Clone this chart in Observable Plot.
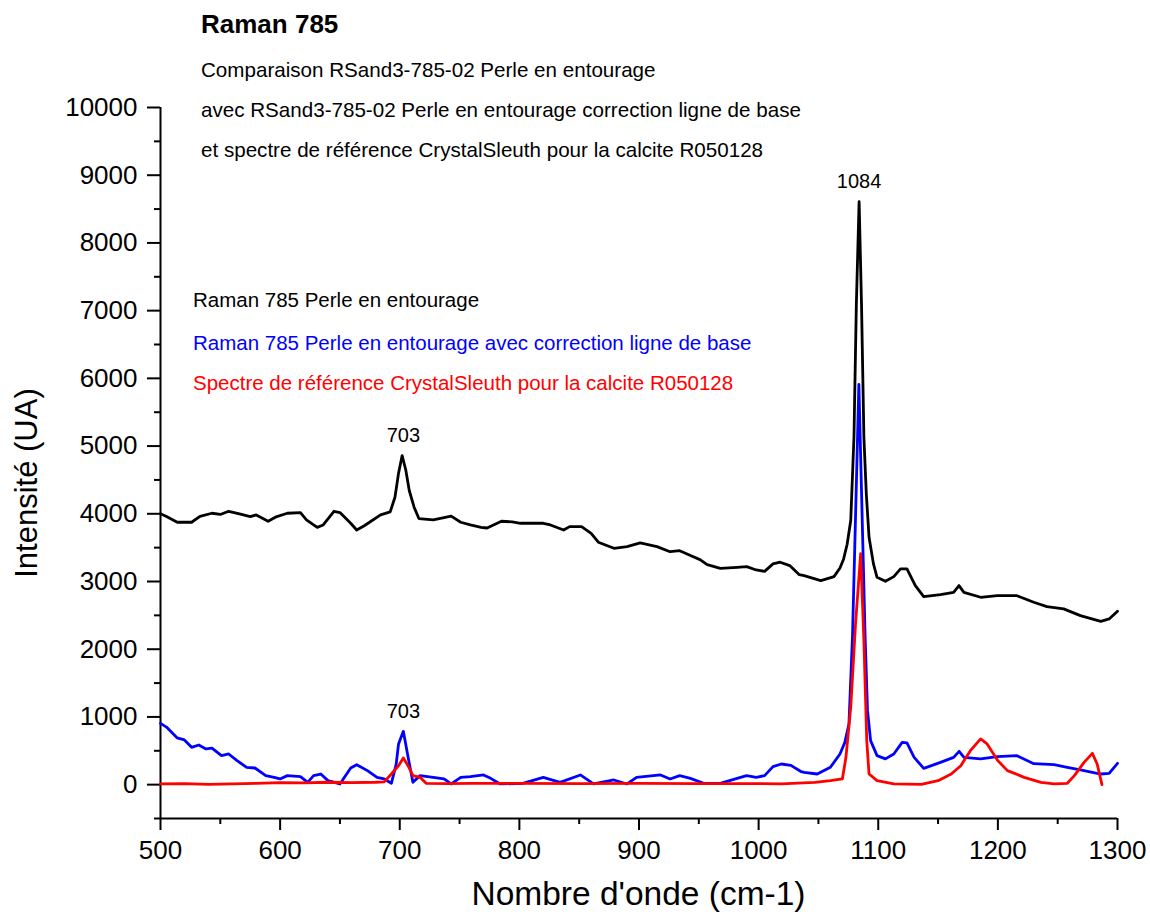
<!DOCTYPE html>
<html>
<head>
<meta charset="utf-8">
<script src="https://cdn.jsdelivr.net/npm/d3@7"></script>
<script src="https://cdn.jsdelivr.net/npm/@observablehq/plot@0.6"></script>
<style>
  html, body { margin: 0; padding: 0; background: #fff; }
  #wrap { position: relative; width: 1150px; height: 920px; font-family: "Liberation Sans", Arial, sans-serif; color: #000; }
  #wrap svg { position: absolute; left: 0; top: 0; }
  .t { position: absolute; white-space: nowrap; line-height: 1; }
</style>
</head>
<body>
<div id="wrap"></div>
<script>
// ---- Data ----
const title = "Raman 785";
const subtitleLines = [
  "Comparaison RSand3-785-02 Perle en entourage",
  "avec RSand3-785-02 Perle en entourage correction ligne de base",
  "et spectre de référence CrystalSleuth pour la calcite R050128"
];
const seriesNames = [
  "Raman 785 Perle en entourage",
  "Raman 785 Perle en entourage avec correction ligne de base",
  "Spectre de référence CrystalSleuth pour la calcite R050128"
];
const seriesColors = ["#000000", "#0000ff", "#ff0000"];
const xLabel = "Nombre d'onde (cm-1)";
const yLabel = "Intensité (UA)";
const xDomain = [500, 1300];
const yDomain = [-500, 10000];
const xTicks = [500, 600, 700, 800, 900, 1000, 1100, 1200, 1300];
const xMinorTicks = [550, 650, 750, 850, 950, 1050, 1150, 1250];
const yTicks = [0, 1000, 2000, 3000, 4000, 5000, 6000, 7000, 8000, 9000, 10000];
const yMinorTicks = [-500, 500, 1500, 2500, 3500, 4500, 5500, 6500, 7500, 8500, 9500];

const blackX = [500,505,514,526,533,543,550,557,566,575,580,590,596,606,617,622,631,636,645,650,659,664,670,676,684,692,696,699,702,705,708,712,716,728,743,751,759,768,773,785,794,801,820,826,837,842,852,860,866,879,890,901,915,926,934,943,951,957,968,982,990,998,1005,1012,1018,1026,1034,1038,1052,1063,1068,1071,1074,1077,1079.7,1081.7,1084,1086,1088,1090,1092.3,1096,1099,1106,1113,1118.6,1124,1131,1138,1152,1163,1167.5,1171.6,1185.6,1199.5,1216,1230,1241,1255,1269,1286,1293,1300];
const blackY = [4000,3960,3875,3875,3963,4008,3990,4037,4000,3959,3983,3890,3950,4008,4018,3910,3800,3835,4037,4018,3860,3760,3820,3890,3983,4028,4244,4600,4860,4650,4340,4097,3930,3910,3965,3875,3835,3800,3790,3890,3880,3860,3860,3835,3760,3810,3810,3712,3580,3490,3515,3570,3515,3440,3455,3383,3323,3250,3195,3210,3220,3170,3150,3260,3285,3235,3100,3087,3013,3072,3200,3330,3550,3900,5130,7100,8610,7100,5130,4300,3653,3260,3062,3003,3072,3186,3186,2940,2777,2806,2840,2940,2840,2767,2790,2790,2693,2630,2595,2496,2412,2447,2560];

const blueX = [500,505,514,520,526,532,538,543,551,557,564,572,579,588,595,600,606,617,623,628,634,640,650,659,664,673,681,687,693,697,699,703,707,711,717,728,737,743,751,759,770,776,784,803,820,834,851,862,879,890,898,918,926,934,943,954,968,982,990,998,1005,1012,1019,1027,1035,1038,1049,1060,1068,1072,1075.5,1078.5,1083.8,1089,1091,1093.6,1099,1106,1113,1120,1124,1130,1138,1152,1163,1167.6,1171.7,1185.6,1199.5,1216,1230,1247,1258,1269,1286,1293,1300];
const blueY = [905,850,690,660,551,586,527,540,428,453,354,256,246,133,108,84,133,118,34,133,157,59,10,246,295,207,108,84,20,300,601,787,403,34,133,108,84,10,108,118,143,93,10,20,108,34,143,10,69,10,108,143,84,133,93,20,20,93,133,108,133,266,305,285,197,182,157,256,453,620,896,2200,5910,2200,1100,650,428,380,453,625,616,403,241,329,403,492,403,380,413,428,310,295,256,217,157,167,315];

const redX = [500,520,540,560,580,600,620,640,660,680,687,693,699,703,707,711,717,722,740,760,800,850,900,950,1000,1019,1047,1060,1070,1073,1077,1081,1085.3,1088,1090.4,1092.3,1099,1113,1136,1150,1161,1169,1177,1185.6,1191,1200,1208,1222,1236,1247,1258,1264,1272,1279,1283,1287];
const redY = [10,15,5,12,20,30,25,35,30,35,40,157,280,394,276,133,108,20,15,20,20,15,20,15,15,10,34,59,84,403,1142,2373,3410,2127,650,157,59,10,5,59,157,280,502,675,601,354,207,108,34,10,20,133,329,462,305,0];

const peakLabels = [
  {x: 1084, y: 8610, text: "1084"},
  {x: 703, y: 4860, text: "703"},
  {x: 703, y: 787, text: "703"}
];

// ---- Build tables ----
const toRows = (xs, ys, s) => xs.map((x, i) => ({x, y: ys[i], s}));
const rows = [
  ...toRows(blackX, blackY, seriesNames[0]),
  ...toRows(blueX, blueY, seriesNames[1]),
  ...toRows(redX, redY, seriesNames[2])
];

const font = "Liberation Sans, Arial, sans-serif";

const chart = Plot.plot({
  width: 1150,
  height: 920,
  marginLeft: 160,
  marginRight: 33,
  marginTop: 107,
  marginBottom: 102,
  style: {fontFamily: font, background: "white", color: "#000", overflow: "visible"},
  x: {domain: xDomain},
  y: {domain: yDomain},
  color: {domain: seriesNames, range: seriesColors},
  marks: [
    Plot.axisX({ticks: xMinorTicks, tickSize: 6, tickFormat: () => "", strokeWidth: 2, label: null}),
    Plot.axisX({ticks: xTicks, tickSize: 12, tickPadding: 10, fontSize: 26, strokeWidth: 2, label: null, tickFormat: d => String(d)}),
    Plot.axisY({ticks: yMinorTicks, tickSize: 6, tickFormat: () => "", strokeWidth: 2, label: null}),
    Plot.axisY({ticks: yTicks, tickSize: 13, tickPadding: 10, fontSize: 26, strokeWidth: 2, label: null, tickFormat: d => String(d)}),
    Plot.ruleX([xDomain[0]], {y1: yDomain[0], y2: yDomain[1], strokeWidth: 2}),
    Plot.ruleY([yDomain[0]], {x1: xDomain[0], x2: xDomain[1], strokeWidth: 2}),
    Plot.line(rows, {x: "x", y: "y", z: "s", stroke: "s", strokeWidth: 2.8, strokeLinejoin: "round"}),
    Plot.text(peakLabels, {x: "x", y: "y", text: "text", dy: -20, fontSize: 20, fill: "#000"})
  ]
});

const wrap = document.getElementById("wrap");
wrap.appendChild(chart);

function addText(txt, css) {
  const d = document.createElement("div");
  d.className = "t";
  d.textContent = txt;
  Object.assign(d.style, css);
  wrap.appendChild(d);
  return d;
}
addText(title, {left: "201px", top: "11px", fontSize: "26px", fontWeight: "bold"});
const subTops = [60, 100, 140];
subtitleLines.forEach((l, i) => addText(l, {left: "201px", top: subTops[i] + "px", fontSize: "20.6px"}));
const legTops = [290, 333, 373];
seriesNames.forEach((n, i) => addText(n, {left: "193px", top: legTops[i] + "px", fontSize: "20.5px", color: seriesColors[i]}));
addText(xLabel, {left: "160px", width: "957px", textAlign: "center", top: "877px", fontSize: "33.5px"});
addText(yLabel, {left: "26px", top: "483px", fontSize: "31px", transform: "translate(-50%, -50%) rotate(-90deg)"});
</script>
</body>
</html>
